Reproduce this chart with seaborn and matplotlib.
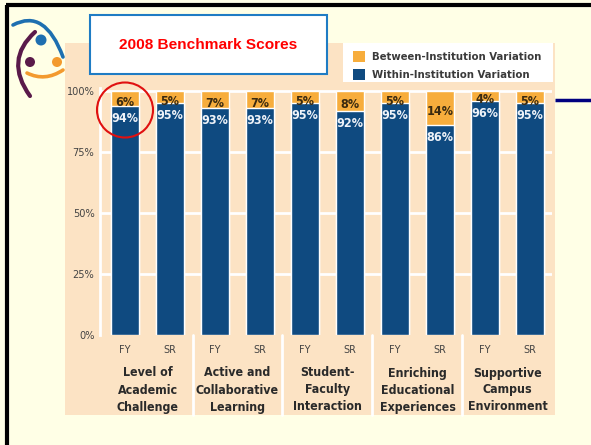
import matplotlib
matplotlib.use("Agg")
import matplotlib.pyplot as plt
import matplotlib.transforms as mtransforms
from matplotlib import font_manager
from matplotlib.font_manager import FontProperties
from matplotlib.patches import Rectangle, Ellipse, Circle, PathPatch
from matplotlib.path import Path
from matplotlib.lines import Line2D
import seaborn as sns
import pandas as pd

# ---------------- data ----------------
categories = ["Level of\nAcademic\nChallenge",
              "Active and\nCollaborative\nLearning",
              "Student-\nFaculty\nInteraction",
              "Enriching\nEducational\nExperiences",
              "Supportive\nCampus\nEnvironment"]
classes = ["FY", "SR"]
within = [94, 95, 93, 93, 95, 92, 95, 86, 96, 95]
between = [6, 5, 7, 7, 5, 8, 5, 14, 4, 5]
y_ticks = [0, 25, 50, 75, 100]
title = "2008 Benchmark Scores"
legend_labels = ["Between-Institution Variation", "Within-Institution Variation"]

# ---------------- style ----------------
W, H = 591, 445
page_bg = "#FFFFE6"
panel = "#FCE3C4"
orange = "#F7AD3C"
navy = "#0F4A80"

sns.set_style("white")
plt.rcParams["font.family"] = ["Liberation Sans", "DejaVu Sans"]

# look for a condensed / narrow sans font
COND = {"condensed", "semi-condensed", "extra-condensed", "ultra-condensed"}
def is_bold(w):
    if isinstance(w, (int, float)):
        return w >= 600
    return str(w).lower() in ("bold", "demibold", "semibold", "extra bold", "heavy", "black", "demi", "extrabold")

def find_font(bold):
    best = None
    for f in font_manager.fontManager.ttflist:
        n = f.name
        if "Mono" in n or "Serif" in n or "CJK" in n:
            continue
        if f.style != "normal":
            continue
        narrow = ("Narrow" in n) or ("Condensed" in n) or (str(f.stretch).lower() in COND)
        if not narrow:
            continue
        if is_bold(f.weight) != bold:
            continue
        if best is None or "Liberation" in n:
            best = f.fname
    return best

fb = find_font(True)
fr = find_font(False)
fp_bold = FontProperties(fname=fb) if fb else FontProperties(family=["Liberation Sans", "DejaVu Sans"], weight="bold")
fp_reg = FontProperties(fname=fr) if fr else FontProperties(family=["Liberation Sans", "DejaVu Sans"])
fp_title = FontProperties(family=["Liberation Sans", "DejaVu Sans"], weight="bold")

rows = []
for i, cat in enumerate(categories):
    for j, cl in enumerate(classes):
        k = i * 2 + j
        rows.append({"bar": f"{k}", "cls": cl, "within": within[k],
                     "total": within[k] + between[k]})
df = pd.DataFrame(rows)

fig = plt.figure(figsize=(W / 100, H / 100), dpi=100, facecolor=page_bg)
renderer = fig.canvas.get_renderer()

def fit(text, fp, target_px, maxsize=None):
    p = fp.copy(); p.set_size(10)
    t = fig.text(0, 0, text, fontproperties=p)
    w = t.get_window_extent(renderer).width
    t.remove()
    s = 10 * target_px / w
    if maxsize:
        s = min(s, maxsize)
    q = fp.copy(); q.set_size(s)
    return q

fp_group = fit("Collaborative", fp_bold, 83, 10)
fp_leg = fit(legend_labels[0], fp_bold, 168, 9)
fp_val = fit("94%", fp_bold, 27, 10)
fp_cls = fit("SR", fp_reg, 13, 8.5)
fp_ytick = fit("100%", fp_reg, 28, 8.5)
fp_tt = fit(title, fp_title, 178, 12)

# background decoration axes (pixel coordinates)
bg = fig.add_axes([0, 0, 1, 1], zorder=-5)
bg.set_xlim(0, W); bg.set_ylim(H, 0); bg.axis("off")
bg.add_patch(Rectangle((65, 43), 555 - 65, 415 - 43, facecolor=panel, edgecolor="none"))

def fx(x): return x / W
def fy(y): return 1 - y / H
left, right, top, bottom = 100, 552, 88, 335
ax = fig.add_axes([fx(left), fy(bottom), fx(right) - fx(left), fy(top) - fy(bottom)])
ax.set_facecolor(panel)

sns.barplot(data=df, x="bar", y="total", color=orange, width=0.64, saturation=1, ax=ax, zorder=3)
sns.barplot(data=df, x="bar", y="within", color=navy, width=0.64, saturation=1, ax=ax, zorder=4)

px_per_unit = 244 / 100
ax.set_ylim(0, (bottom - top) / px_per_unit)
ax.set_xlim(-0.556, 9.49)
ax.set_yticks(y_ticks)
ax.set_yticklabels([f"{v}%" for v in y_ticks], fontproperties=fp_ytick, color="#444444")
ax.set_xticks(range(len(df)))
ax.set_xticklabels(df["cls"], fontproperties=fp_cls, color="#444444")
ax.tick_params(axis="y", length=0, pad=4)
ax.tick_params(axis="x", length=0, pad=7)
ax.set_xlabel(""); ax.set_ylabel("")
for v in y_ticks[1:]:
    ax.axhline(v, color="white", lw=2, zorder=1)
for s in ["top", "right", "bottom"]:
    ax.spines[s].set_visible(False)
ax.spines["left"].set_color("white")
ax.spines["left"].set_linewidth(2)

# value labels
for k in range(len(df)):
    w = within[k]; b = between[k]
    ax.text(k, w - 5.2, f"{w}%", ha="center", va="center", color="#EEF2F8",
            fontproperties=fp_val, zorder=6)
    ax.text(k, w + b / 2 - 1.6, f"{b}%", ha="center", va="center", color="#3A2A10",
            fontproperties=fp_val, zorder=6)

# group separators and group labels below the plot
blend = mtransforms.blended_transform_factory(ax.transData, fig.transFigure)
for sx in [1.5, 3.5, 5.5, 7.5]:
    ax.add_line(Line2D([sx, sx], [fy(bottom), fy(415)], transform=blend, color="white",
                       lw=2, clip_on=False))
for i, cat in enumerate(categories):
    for li, line in enumerate(cat.split("\n")):
        ax.text(2 * i + 0.5, fy(373 + 17 * li), line, transform=blend, ha="center",
                va="center", fontproperties=fp_group, color="#2A2A2A")

# foreground decorations
fg = fig.add_axes([0, 0, 1, 1], zorder=10)
fg.set_xlim(0, W); fg.set_ylim(H, 0); fg.axis("off"); fg.patch.set_alpha(0)

# slide frame
fg.plot([6, W], [5, 5], color="black", lw=3, solid_capstyle="butt")
fg.plot([7, 7], [5, H], color="black", lw=3, solid_capstyle="butt")

# title box
fg.add_patch(Rectangle((90, 15), 327 - 90, 74 - 15, facecolor="white", edgecolor="#1F7CC4", lw=1.5))
fg.text(208.5, 45, title, ha="center", va="center", color="#FF0000", fontproperties=fp_tt)

# legend box
fg.add_patch(Rectangle((343, 43), 553 - 343, 82 - 43, facecolor="white", edgecolor="none"))
fg.add_patch(Rectangle((353, 51), 12, 11, facecolor=orange, edgecolor="none"))
fg.add_patch(Rectangle((353, 69), 12, 11, facecolor=navy, edgecolor="none"))
fg.text(372, 57, legend_labels[0], ha="left", va="center", fontproperties=fp_leg, color="#3A3A3A")
fg.text(372, 75, legend_labels[1], ha="left", va="center", fontproperties=fp_leg, color="#3A3A3A")

# red highlight circle
fg.add_patch(Ellipse((125, 110), 56, 55, facecolor="none", edgecolor="#E01010", lw=1.5))

# blue rule on the right
fg.plot([555, W], [100, 100], color="#000080", lw=2.5, solid_capstyle="butt")

# logo
def curve(p0, c, p1, color, lw):
    fg.add_patch(PathPatch(Path([p0, c, p1], [Path.MOVETO, Path.CURVE3, Path.CURVE3]),
                           facecolor="none", edgecolor=color, lw=lw, capstyle="round"))
curve((13, 25), (45, 8), (63, 57), "#1E6FB0", 2.6)
curve((35, 32), (4, 60), (30, 96), "#5A1A4A", 3)
curve((27, 73), (45, 82), (63, 70), "#F39A2E", 2.6)
fg.add_patch(Circle((41, 40), 5.5, facecolor="#1E6FB0", edgecolor="none"))
fg.add_patch(Circle((30, 62), 5, facecolor="#5A1A4A", edgecolor="none"))
fg.add_patch(Circle((57, 62), 5, facecolor="#F39A2E", edgecolor="none"))

fig.savefig("out.png", dpi=100, facecolor=page_bg)
